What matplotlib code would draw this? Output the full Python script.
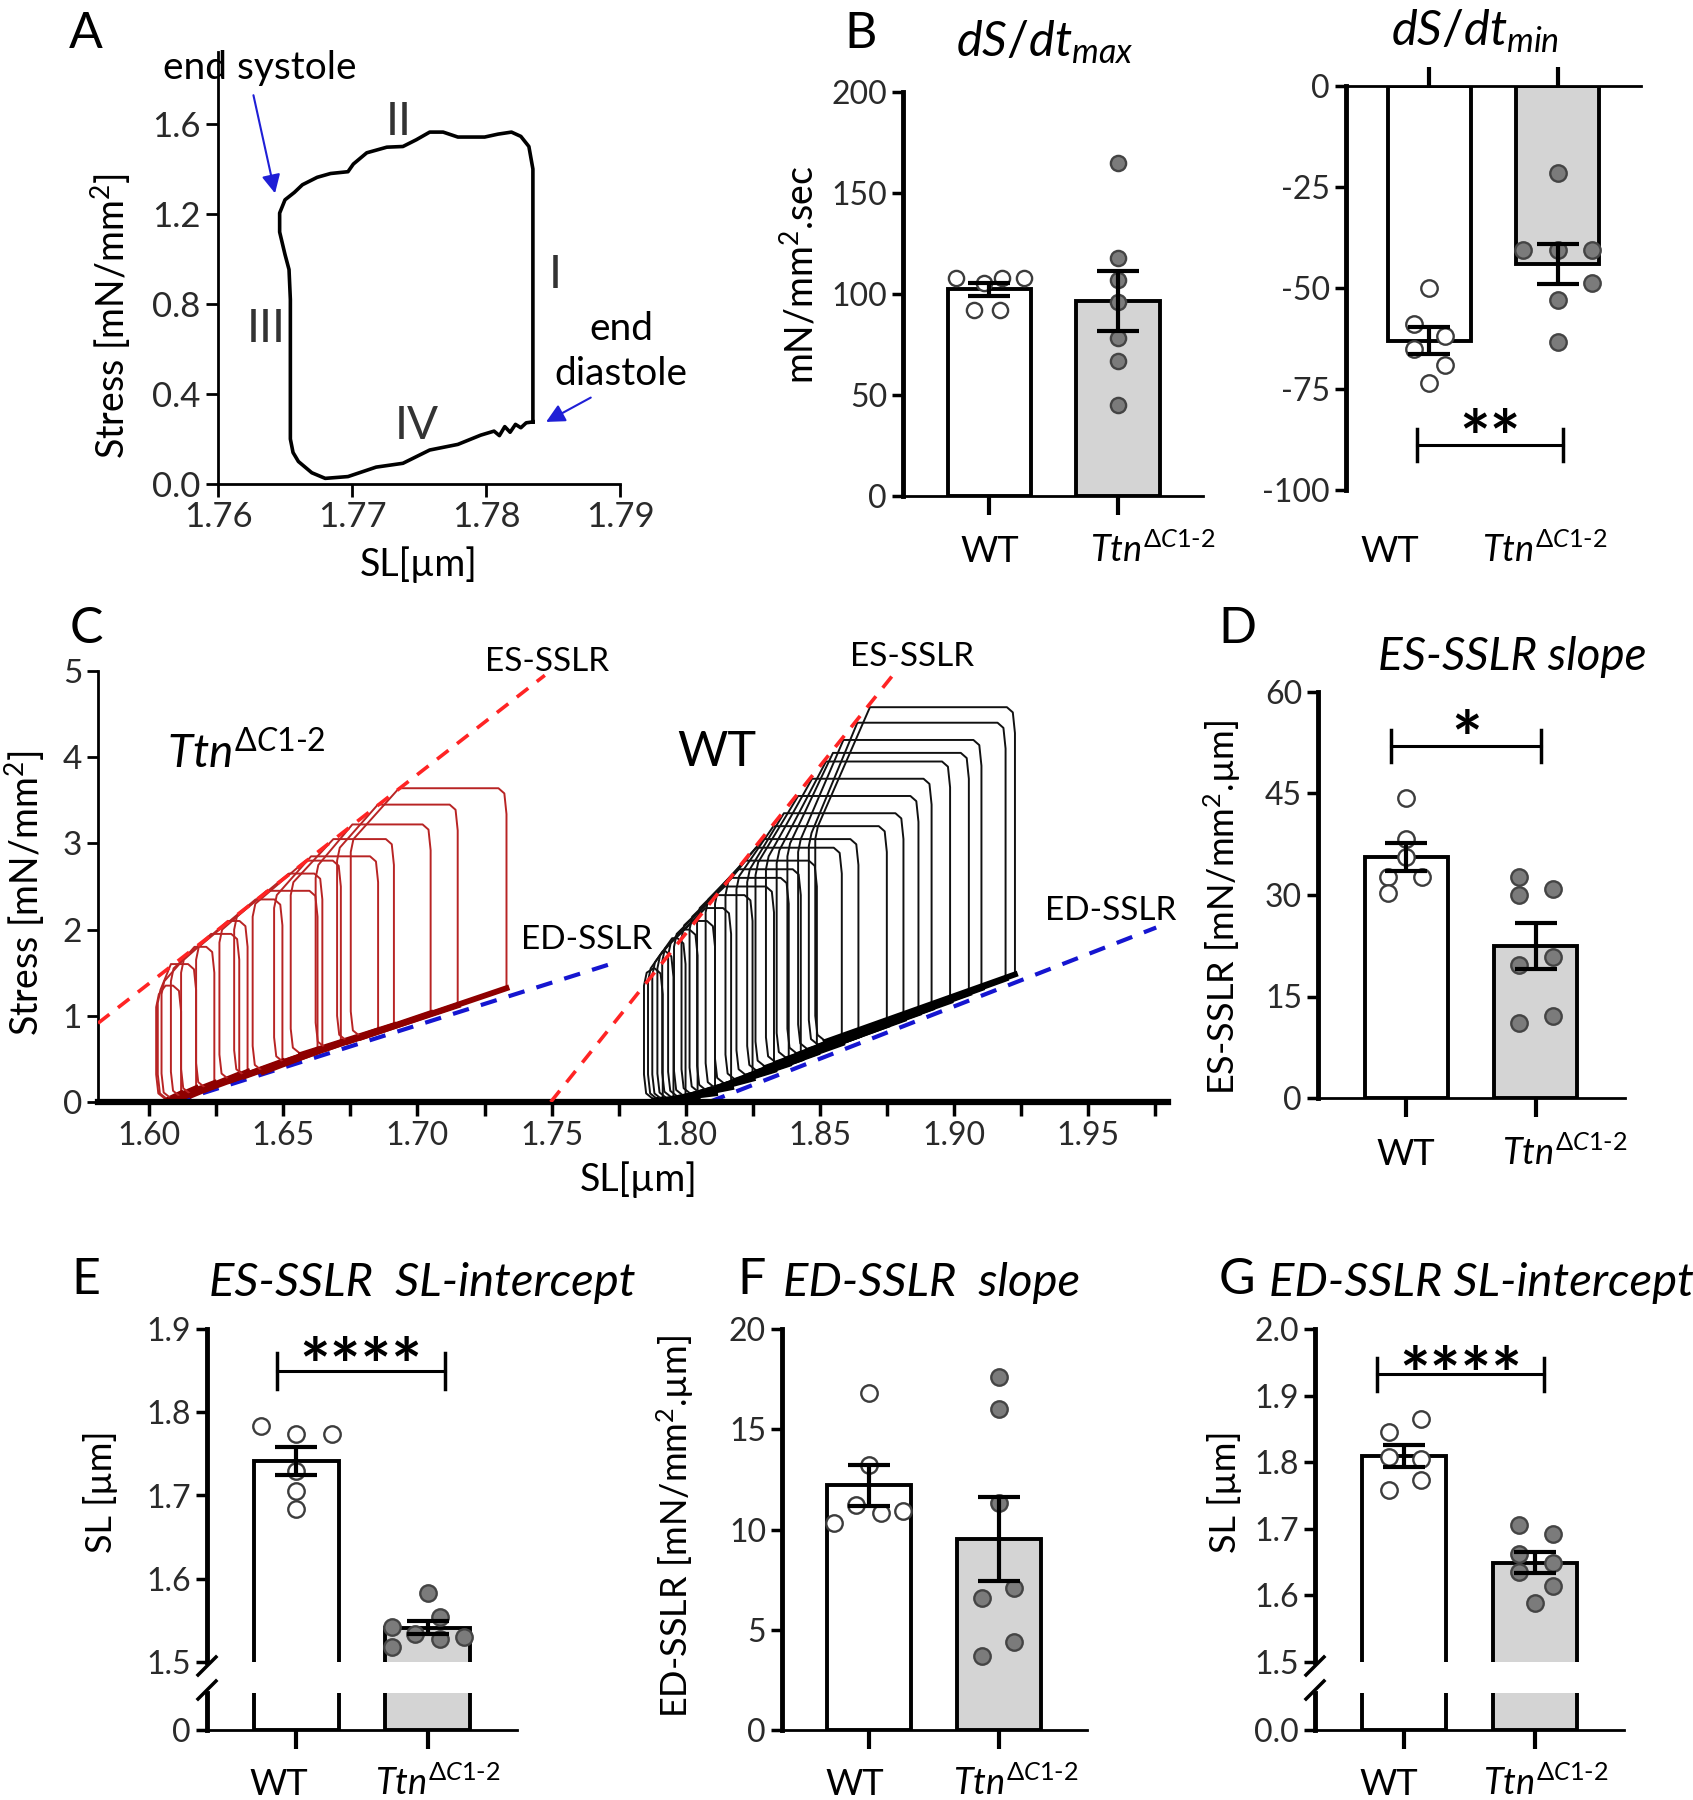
#!/usr/bin/env python3
'''
Stress-length loops and summary bar charts (panels A-G).
'''
import numpy as np
import matplotlib
matplotlib.use('Agg')
import matplotlib.pyplot as plt
from matplotlib.lines import Line2D

plt.rcParams['font.family'] = ['Lato', 'DejaVu Sans']
plt.rcParams['mathtext.fontset'] = 'custom'
plt.rcParams['mathtext.rm'] = 'Lato'
plt.rcParams['mathtext.it'] = 'Lato:italic'
plt.rcParams['mathtext.bf'] = 'Lato:bold'
plt.rcParams['axes.unicode_minus'] = False

W, H = 1693, 1800
TTN = r'$Ttn^{\Delta C1\text{-}2}$'

# ---------------- data ----------------
# A: single stress-length loop (SL um, stress mN/mm2)
loop_sl = [1.7835, 1.7835, 1.7835, 1.7832, 1.7826, 1.7819, 1.7809, 1.7799, 1.7779,
           1.7768, 1.7758, 1.7748, 1.7738, 1.7726, 1.7711, 1.7701, 1.7697, 1.7684,
           1.7674, 1.7663, 1.7657, 1.7650, 1.7646, 1.7646, 1.7650, 1.7653, 1.7654,
           1.7654, 1.7654, 1.7656, 1.7660, 1.7670, 1.7680, 1.7697, 1.7718, 1.7738,
           1.7758, 1.7779, 1.7796, 1.7806, 1.7810, 1.7814, 1.7818, 1.7822, 1.7826,
           1.7830, 1.7835]
loop_stress = [0.276, 0.80, 1.40, 1.50, 1.545, 1.564, 1.555, 1.542, 1.542,
               1.564, 1.564, 1.530, 1.500, 1.497, 1.472, 1.422, 1.388, 1.380,
               1.363, 1.330, 1.296, 1.263, 1.204, 1.120, 1.020, 0.953, 0.820,
               0.485, 0.200, 0.140, 0.100, 0.050, 0.025, 0.033, 0.075, 0.092,
               0.151, 0.176, 0.217, 0.235, 0.215, 0.255, 0.230, 0.265, 0.250,
               0.272, 0.276]

# B: dS/dt max and min
dsdt_max_wt = [108, 105.5, 108, 108, 92, 92]
dsdt_max_ttn = [165, 118, 107, 96, 78, 67, 45]
dsdt_min_wt = [-50, -59, -62, -65, -69, -73.5]
dsdt_min_ttn = [-21.6, -40.5, -40.5, -40.5, -48.8, -53, -63.3]

# C: loops, Ttn (red) and WT (black)
ttn_ed_sl = [1.6118, 1.6174, 1.6242, 1.6335, 1.6366, 1.6496, 1.6627, 1.6645, 1.6714,
             1.6853, 1.6912, 1.7049, 1.7150, 1.7332]
ttn_ed_p = [0.10, 0.16, 0.22, 0.32, 0.35, 0.47, 0.60, 0.62, 0.69, 0.83, 0.89, 1.03, 1.12, 1.32]
ttn_top = [1.35, 1.60, 1.80, 1.95, 2.10, 2.35, 2.45, 2.65, 2.80, 2.85, 3.05, 3.22, 3.45, 3.64]
ttn_knee = [1.6060, 1.6080, 1.6168, 1.6230, 1.6292, 1.6396, 1.6437, 1.6520, 1.6583,
            1.6603, 1.6686, 1.6757, 1.6852, 1.6931]
ttn_es_sl = [1.6025, 1.6031, 1.6045, 1.6080, 1.6118, 1.6174, 1.6261, 1.6316, 1.6385,
             1.6465, 1.6527, 1.6620, 1.6700, 1.6751]
ttn_es_top = [1.25, 1.30, 1.40, 1.55, 1.65, 1.80, 2.00, 2.15, 2.30, 2.40, 2.55, 2.75, 2.95, 3.05]
ttn_base = [0.02, 0.02, 0.03, 0.05, 0.08, 0.15, 0.25, 0.30, 0.35, 0.45, 0.55, 0.62, 0.70, 0.75]

wt_ed_sl = [1.7915, 1.7955, 1.8000, 1.8045, 1.8110, 1.8170, 1.8250, 1.8330, 1.8385, 1.8430,
            1.8490, 1.8583, 1.8645, 1.8751, 1.8813, 1.8869, 1.8918, 1.8987, 1.9057, 1.9104,
            1.9194, 1.9229]
wt_ed_p = [0.03, 0.03, 0.04, 0.06, 0.10, 0.17, 0.27, 0.37, 0.44, 0.50, 0.57, 0.68, 0.77,
           0.89, 0.96, 1.03, 1.09, 1.17, 1.26, 1.32, 1.43, 1.48]
wt_top = [1.55, 1.75, 1.90, 2.00, 2.10, 2.25, 2.40, 2.50, 2.60, 2.70, 2.80, 2.95, 3.05,
          3.20, 3.35, 3.55, 3.75, 3.95, 4.05, 4.20, 4.40, 4.58]
wt_knee = [1.7880, 1.7915, 1.7950, 1.7985, 1.8030, 1.8075, 1.8115, 1.8146, 1.8172, 1.8198,
           1.8224, 1.8263, 1.8289, 1.8328, 1.8367, 1.8420, 1.8472, 1.8524, 1.8550, 1.8589,
           1.8641, 1.8688]
wt_es_sl = [1.7845, 1.7860, 1.7876, 1.7895, 1.7913, 1.7935, 1.7957, 1.7985, 1.8015, 1.8043,
            1.8075, 1.8110, 1.8149, 1.8190, 1.8230, 1.8261, 1.8300, 1.8340, 1.8380, 1.8420,
            1.8460, 1.8484]
wt_es_top = [1.50, 1.55, 1.62, 1.70, 1.78, 1.85, 1.95, 2.05, 2.15, 2.25, 2.35, 2.45, 2.55,
             2.62, 2.70, 2.78, 2.85, 2.92, 3.00, 3.05, 3.12, 3.20]
wt_base = [0.02, 0.02, 0.02, 0.03, 0.04, 0.05, 0.06, 0.08, 0.10, 0.12, 0.15, 0.20, 0.25,
           0.30, 0.35, 0.40, 0.45, 0.50, 0.55, 0.60, 0.65, 0.70]

# regression lines (SL, stress end points)
ttn_es_line = ([1.5808, 1.7475], [0.914, 4.95])
wt_es_line = ([1.7497, 1.8773], [0.0, 4.95])
ttn_ed_line = ([1.6095, 1.7746], [0.0, 1.626])
wt_ed_line = ([1.8088, 1.9756], [0.0, 2.024])

# D-G: per-cell values
es_slope_wt = [44.3, 38.3, 35.6, 32.7, 32.7, 30.3]
es_slope_ttn = [32.7, 30.0, 30.9, 20.8, 19.6, 12.1, 11.1]
es_int_wt = [1.783, 1.774, 1.774, 1.730, 1.706, 1.684]
es_int_ttn = [1.583, 1.554, 1.542, 1.534, 1.528, 1.530, 1.518]
ed_slope_wt = [16.8, 13.2, 11.2, 10.8, 10.9, 10.3]
ed_slope_ttn = [17.6, 16.0, 11.3, 7.1, 6.6, 4.4, 3.7]
ed_int_wt = [1.865, 1.846, 1.808, 1.805, 1.774, 1.759]
ed_int_ttn = [1.705, 1.692, 1.662, 1.649, 1.635, 1.614, 1.588]

# horizontal jitter of the dots (fraction of group spacing)
jit_max_wt = [-0.26, -0.04, 0.10, 0.27, -0.12, 0.08]
jit_max_ttn = [0, 0, 0, 0, 0, 0, 0]
jit_min_wt = [0, -0.12, 0.12, -0.12, 0.12, 0]
jit_min_ttn = [0, -0.27, 0, 0.27, 0.27, 0, 0]
jit_d_wt = [0, 0, 0, -0.14, 0.12, -0.14]
jit_d_ttn = [-0.13, -0.13, 0.13, 0.13, -0.13, 0.13, -0.13]
jit_e_wt = [-0.27, 0, 0.27, 0, 0, 0]
jit_e_ttn = [0, 0.095, -0.275, -0.1, 0.095, 0.28, -0.275]
jit_f_wt = [0, 0, -0.1, 0.09, 0.26, -0.27]
jit_f_ttn = [0, 0, 0, 0.12, -0.13, 0.12, -0.13]
jit_g_wt = [0.13, -0.115, -0.115, 0.13, 0.13, -0.115]
jit_g_ttn = [-0.12, 0.14, -0.12, 0.14, -0.12, 0.14, 0]

fig = plt.figure(figsize=(W / 100, H / 100), dpi=100)


def px_axes(left, right, top, bottom):
    return fig.add_axes([left / W, 1 - bottom / H, (right - left) / W, (bottom - top) / H])


def ftext(x, y, s, **kw):
    kw.setdefault('ha', 'center')
    kw.setdefault('va', 'center')
    fig.text(x / W, 1 - y / H, s, **kw)


def fline(x0, y0, x1, y1, lw=2.5):
    fig.add_artist(Line2D([x0 / W, x1 / W], [1 - y0 / H, 1 - y1 / H],
                          color='black', lw=lw, transform=fig.transFigure))


def style(ax, labelsize=23, lw_left=3.5, lw_bottom=2):
    for s in ['top', 'right']:
        ax.spines[s].set_visible(False)
    ax.spines['left'].set_linewidth(lw_left)
    ax.spines['bottom'].set_linewidth(lw_bottom)
    ax.tick_params(axis='y', labelsize=labelsize, length=8, width=2.5,
                   colors='black', labelcolor='#2a2a2a')
    ax.tick_params(axis='x', length=14, width=3)


def bars(ax, wt, ttn, jwt, jttn, ms=140):
    means = [np.mean(wt), np.mean(ttn)]
    sems = [np.std(wt, ddof=1) / np.sqrt(len(wt)), np.std(ttn, ddof=1) / np.sqrt(len(ttn))]
    ax.bar([0, 1], means, width=0.645, color=['white', '#d4d4d4'],
           edgecolor='black', linewidth=2.8, zorder=1)
    ax.scatter(np.array(jwt), wt, s=ms, facecolor='white', edgecolor='#3c3c3c',
               linewidth=1.7, zorder=2)
    ax.scatter(1 + np.array(jttn), ttn, s=ms, facecolor='#7b7b7b', edgecolor='#444444',
               linewidth=1.7, zorder=2)
    ax.errorbar([0, 1], means, yerr=sems, fmt='none', ecolor='black', elinewidth=3,
                capsize=15, capthick=3, zorder=3)


def sig(ax, x0, x1, y, dy, stars, ys, size=52):
    ax.plot([x0, x1], [y, y], color='black', lw=2.2, clip_on=False)
    ax.plot([x0, x0], [y - dy, y + dy], color='black', lw=2.5, clip_on=False)
    ax.plot([x1, x1], [y - dy, y + dy], color='black', lw=2.5, clip_on=False)
    ax.text((x0 + x1) / 2, ys, stars, ha='center', va='center', fontsize=size,
            fontweight='bold', clip_on=False)


def group_labels(x_wt, x_ttn, y, size=26):
    ftext(x_wt, y, 'WT', fontsize=size, va='baseline')
    ftext(x_ttn, y, TTN, fontsize=size, va='baseline', ha='left')


# ---------------- A ----------------
axA = px_axes(218, 620, 52, 484)
axA.plot(loop_sl, loop_stress, color='black', lw=2.6)
axA.set_xlim(1.76, 1.79)
axA.set_ylim(0, 1.92)
axA.set_xticks([1.76, 1.77, 1.78, 1.79])
axA.set_yticks([0, 0.4, 0.8, 1.2, 1.6])
axA.yaxis.set_major_formatter('{x:.1f}')
style(axA, labelsize=25, lw_left=2, lw_bottom=2)
axA.tick_params(axis='x', labelsize=25, length=9, width=2, labelcolor='#2a2a2a')
axA.tick_params(axis='y', length=9, width=2)
for txt, xx, yy in [('II', 1.7735, 1.61), ('I', 1.7852, 0.93), ('III', 1.7636, 0.69),
                    ('IV', 1.7748, 0.26)]:
    axA.text(xx, yy, txt, fontsize=33, ha='center', va='center', color='#333333')
axA.text(1.7631, 1.85, 'end systole', fontsize=28, ha='center', va='center')
axA.text(1.7901, 0.69, 'end', fontsize=28, ha='center', va='center')
axA.text(1.7901, 0.49, 'diastole', fontsize=28, ha='center', va='center')
arrow = dict(arrowstyle='-|>', color='#1f1fd6', lw=1.5, mutation_scale=28)
axA.annotate('', xy=(1.7643, 1.28), xytext=(1.7626, 1.74), arrowprops=arrow)
axA.annotate('', xy=(1.7843, 0.27), xytext=(1.7880, 0.39), arrowprops=arrow)
ftext(419, 565, 'SL[µm]', fontsize=27)
ftext(111, 316, r'Stress [mN/mm$^2$]', fontsize=27, rotation=90)
ftext(86, 34, 'A', fontsize=36)

# ---------------- B ----------------
axB1 = px_axes(903, 1203, 92, 496)
bars(axB1, dsdt_max_wt, dsdt_max_ttn, jit_max_wt, jit_max_ttn, ms=120)
axB1.set_xlim(-0.67, 1.66)
axB1.set_ylim(0, 200)
axB1.set_yticks([0, 50, 100, 150, 200])
axB1.set_xticks([0, 1])
axB1.set_xticklabels([])
style(axB1)
ftext(800, 275, r'mN/mm$^2$.sec', fontsize=27, rotation=90)
group_labels(990, 1090, 562)

axB2 = px_axes(1346, 1641, 86, 490)
bars(axB2, dsdt_min_wt, dsdt_min_ttn, jit_min_wt, jit_min_ttn)
axB2.set_xlim(-0.65, 1.65)
axB2.set_ylim(-100, 0)
axB2.set_yticks([-100, -75, -50, -25, 0])
axB2.xaxis.tick_top()
axB2.set_xticks([0, 1])
axB2.set_xticklabels([])
style(axB2)
axB2.spines['top'].set_visible(True)
axB2.spines['top'].set_linewidth(2)
axB2.spines['bottom'].set_visible(False)
sig(axB2, -0.094, 1.04, -88.8, 4, '**', -88.6)
group_labels(1390, 1482, 562)

ftext(861, 34, 'B', fontsize=36)
ftext(1045, 42, r'$dS/dt_{max}$', fontsize=35)
ftext(1475, 31, r'$dS/dt_{min}$', fontsize=35)

# ---------------- C ----------------
axC = px_axes(98, 1168, 671, 1102)


def draw_loops(ax, ed_sl, ed_p, top, knee, es_sl, es_top, base, color, band):
    for i in range(len(ed_sl)):
        xs = [ed_sl[i], ed_sl[i], ed_sl[i] - 0.0008, ed_sl[i] - 0.003, knee[i],
              es_sl[i] + 0.001, es_sl[i], es_sl[i], es_sl[i] + 0.0008, es_sl[i] + 0.004]
        ys = [ed_p[i], top[i] - 0.3, top[i] - 0.06, top[i], top[i],
              es_top[i], es_top[i] - 0.15, base[i] + 0.3, base[i] + 0.08, base[i]]
        ax.plot(xs, ys, color=color, lw=1.4, zorder=2)
        ax.plot([es_sl[i] + 0.004, ed_sl[i]], [base[i], ed_p[i]], color=band, lw=4.2,
                zorder=2)


for xs, ys in [ttn_ed_line, wt_ed_line]:
    axC.plot(xs, ys, color='#1515d0', lw=3, dashes=(4, 3), zorder=1.5)
draw_loops(axC, ttn_ed_sl, ttn_ed_p, ttn_top, ttn_knee, ttn_es_sl, ttn_es_top, ttn_base,
           '#b82424', '#8e0000')
draw_loops(axC, wt_ed_sl, wt_ed_p, wt_top, wt_knee, wt_es_sl, wt_es_top, wt_base,
           '#111111', '#000000')
for xs, ys in [ttn_es_line, wt_es_line]:
    axC.plot(xs, ys, color='#ff2424', lw=2.6, dashes=(4, 3), zorder=4)
axC.set_xlim(1.5808, 1.98)
axC.set_ylim(0, 5)
axC.set_xticks(np.arange(1.60, 1.96, 0.05))
axC.set_xticks(np.arange(1.625, 1.98, 0.05), minor=True)
axC.xaxis.set_major_formatter('{x:.2f}')
axC.set_yticks([0, 1, 2, 3, 4, 5])
style(axC, labelsize=24, lw_left=2, lw_bottom=4.5)
axC.tick_params(axis='x', which='both', labelsize=23, length=10, width=2.5,
                labelcolor='#2a2a2a')
axC.tick_params(axis='y', length=8, width=2)
axC.text(1.7485, 5.1, 'ES-SSLR', fontsize=24, ha='center', va='center')
axC.text(1.8844, 5.16, 'ES-SSLR', fontsize=24, ha='center', va='center')
axC.text(1.7632, 1.88, 'ED-SSLR', fontsize=24, ha='center', va='center')
axC.text(1.9585, 2.21, 'ED-SSLR', fontsize=24, ha='center', va='center')
axC.text(1.636, 4.05, TTN, fontsize=33, ha='center', va='center')
axC.text(1.8116, 4.06, 'WT', fontsize=35, ha='center', va='center')
ftext(639, 1180, 'SL[µm]', fontsize=27)
ftext(25, 893, r'Stress [mN/mm$^2$]', fontsize=27, rotation=90)
ftext(86, 629, 'C', fontsize=36)

# ---------------- D ----------------
axD = px_axes(1318, 1625, 692, 1098)
bars(axD, es_slope_wt, es_slope_ttn, jit_d_wt, jit_d_ttn)
axD.set_xlim(-0.683, 1.69)
axD.set_ylim(0, 60)
axD.set_yticks([0, 15, 30, 45, 60])
axD.set_xticks([0, 1])
axD.set_xticklabels([])
style(axD)
sig(axD, -0.116, 1.044, 52, 2.4, '*', 52.2)
ftext(1222, 907, r'ES-SSLR [mN/mm$^2$.µm]', fontsize=26, rotation=90)
group_labels(1406, 1502, 1165)
ftext(1237, 629, 'D', fontsize=36)
ftext(1512, 657, 'ES-SSLR slope', fontsize=33, style='italic')


# ---------------- E, G (broken axis) ----------------
def broken(left, right, wt, ttn, jwt, jttn, ylo, yhi, yt, zero_lbl, fmt):
    top = px_axes(left, right, 1329, 1662)
    low = px_axes(left, right, 1693, 1730)
    for ax in (top, low):
        bars(ax, wt, ttn, jwt, jttn)
        ax.set_xlim(-0.68, 1.68)
        style(ax)
    top.set_ylim(ylo, yhi)
    top.set_yticks(yt)
    top.yaxis.set_major_formatter(fmt)
    top.spines['bottom'].set_visible(False)
    top.set_xticks([])
    low.set_ylim(0, 1)
    low.set_yticks([0])
    low.set_yticklabels([zero_lbl])
    low.set_xticks([0, 1])
    low.set_xticklabels([])
    fline(left - 9, 1675, left + 9, 1657)
    fline(left - 9, 1699, left + 9, 1681)
    return top


axE = broken(207, 517, es_int_wt, es_int_ttn, jit_e_wt, jit_e_ttn, 1.5, 1.9,
             [1.5, 1.6, 1.7, 1.8, 1.9], '0', '{x:.1f}')
sig(axE, -0.15, 1.13, 1.849, 0.0216, '****', 1.8495)
ftext(101, 1492, 'SL [µm]', fontsize=26, rotation=90)
group_labels(279, 375, 1795)
ftext(86, 1280, 'E', fontsize=36)
ftext(422, 1283, 'ES-SSLR  SL-intercept', fontsize=34, style='italic')

axG = broken(1315, 1624, ed_int_wt, ed_int_ttn, jit_g_wt, jit_g_ttn, 1.5, 2.0,
             [1.5, 1.6, 1.7, 1.8, 1.9, 2.0], '0.0', '{x:.1f}')
sig(axG, -0.21, 1.07, 1.932, 0.025, '****', 1.923)
ftext(1224, 1492, 'SL [µm]', fontsize=26, rotation=90)
group_labels(1389, 1483, 1795)
ftext(1237, 1280, 'G', fontsize=36)
ftext(1481, 1283, 'ED-SSLR SL-intercept', fontsize=34, style='italic')

# ---------------- F ----------------
axF = px_axes(782, 1087, 1329, 1730)
bars(axF, ed_slope_wt, ed_slope_ttn, jit_f_wt, jit_f_ttn)
axF.set_xlim(-0.67, 1.68)
axF.set_ylim(0, 20)
axF.set_yticks([0, 5, 10, 15, 20])
axF.set_xticks([0, 1])
axF.set_xticklabels([])
style(axF)
ftext(675, 1527, r'ED-SSLR [mN/mm$^2$.µm]', fontsize=26, rotation=90)
group_labels(855, 953, 1795)
ftext(752, 1280, 'F', fontsize=36)
ftext(932, 1283, 'ED-SSLR  slope', fontsize=34, style='italic')

fig.savefig('out.png', dpi=100)
